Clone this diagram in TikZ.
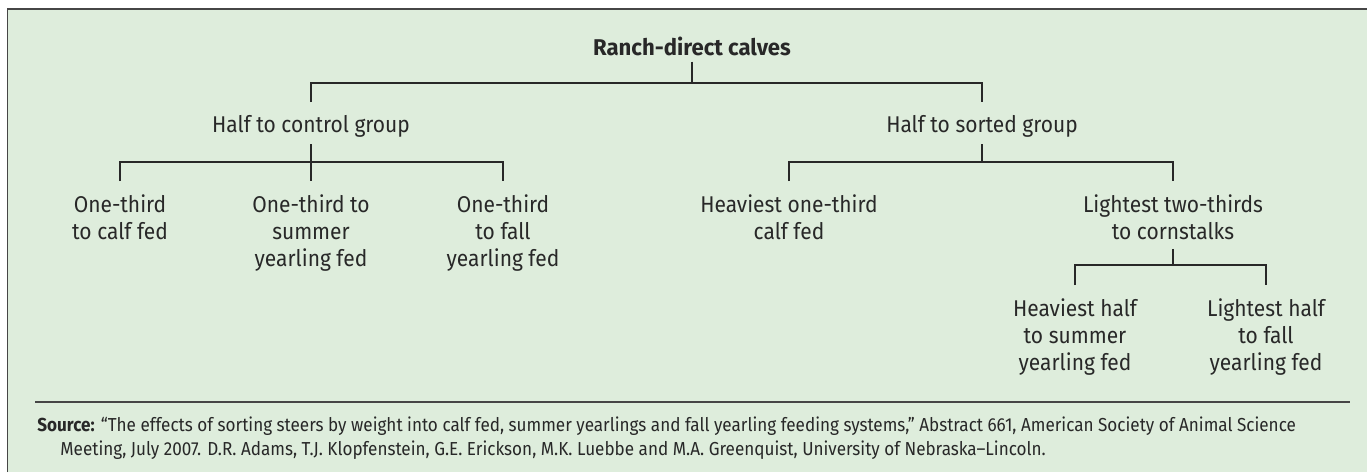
\documentclass[tikz,border=0pt]{standalone}
\usepackage{fontspec}
\setmainfont[FakeStretch=0.92]{Fira Sans}
\newfontfamily\rootfont[FakeStretch=0.97]{Fira Sans}
\newfontfamily\srcfont[FakeStretch=0.91]{Fira Sans}
\usepackage{tikz}
\definecolor{panel}{RGB}{222,237,220}
\definecolor{ink}{RGB}{40,40,40}
\definecolor{rule}{RGB}{70,70,70}

\begin{document}
\begin{tikzpicture}[x=0.5pt,y=-0.5pt,
  lbl/.style={align=center,inner sep=0pt,anchor=north,text=ink,font=\fontsize{11.4}{13.5}\selectfont},
  wire/.style={draw=ink,line width=0.6pt}]
\useasboundingbox (0,0) rectangle (1367,472);
\fill[panel] (7.5,9) rectangle (1367,472);
\draw[rule,line width=0.8pt] (7.5,472) -- (7.5,9) -- (1367,9);

% tree
\node[lbl,font=\rootfont\fontsize{11.4}{13.5}\selectfont\bfseries] (root) at (692,37) {Ranch-direct calves};
\node[lbl] (ctl) at (311,115) {Half to control group};
\node[lbl] (srt) at (982,115) {Half to sorted group};
\node[lbl] (c1) at (120,194) {One-third\\to calf fed};
\node[lbl] (c2) at (311,194) {One-third to\\summer\\yearling fed};
\node[lbl] (c3) at (503,194) {One-third\\to fall\\yearling fed};
\node[lbl] (h1) at (789,194) {Heaviest one-third\\calf fed};
\node[lbl] (l1) at (1173,194) {Lightest two-thirds\\to cornstalks};
\node[lbl] (g1) at (1075,298) {Heaviest half\\to summer\\yearling fed};
\node[lbl] (g2) at (1266,298) {Lightest half\\to fall\\yearling fed};

\coordinate (fkroot) at (692,83);
\coordinate (fkctl) at (311,162);
\coordinate (fksrt) at (982,162);
\coordinate (fklt) at (1173,265);

\draw[wire] ([yshift=-2.5pt]root.south) -- (fkroot);
\draw[wire] ([yshift=6.5pt]ctl.north) |- (fkroot) -| ([yshift=6.5pt]srt.north);
\draw[wire] ([yshift=-3.2pt]ctl.south) -- (fkctl);
\draw[wire] ([yshift=6.5pt]c1.north) |- (fkctl) -| ([yshift=6.5pt]c3.north);
\draw[wire] (fkctl) -- ([yshift=6.5pt]c2.north);
\draw[wire] ([yshift=-3.2pt]srt.south) -- (fksrt);
\draw[wire] ([yshift=6.5pt]h1.north) |- (fksrt) -| ([yshift=6.5pt]l1.north);
\draw[wire] ([yshift=-4.5pt]l1.south) -- (fklt);
\draw[wire] ([yshift=6.5pt]g1.north) |- (fklt) -| ([yshift=6.5pt]g2.north);

% source
\draw[rule,line width=0.6pt] (35,402) -- (1350,402);
\node[anchor=north west,inner sep=0pt,align=left,text=ink,font=\srcfont\fontsize{9.4}{12}\selectfont] (src) at (37,416)
  {\textbf{Source:} “The effects of sorting steers by weight into calf fed, summer yearlings and fall yearling feeding systems,” Abstract 661, American Society of Animal Science\\
   \hspace*{11.5pt}Meeting, July 2007. D.R. Adams, T.J. Klopfenstein, G.E. Erickson, M.K. Luebbe and M.A. Greenquist, University of Nebraska–Lincoln.};
\end{tikzpicture}
\end{document}
